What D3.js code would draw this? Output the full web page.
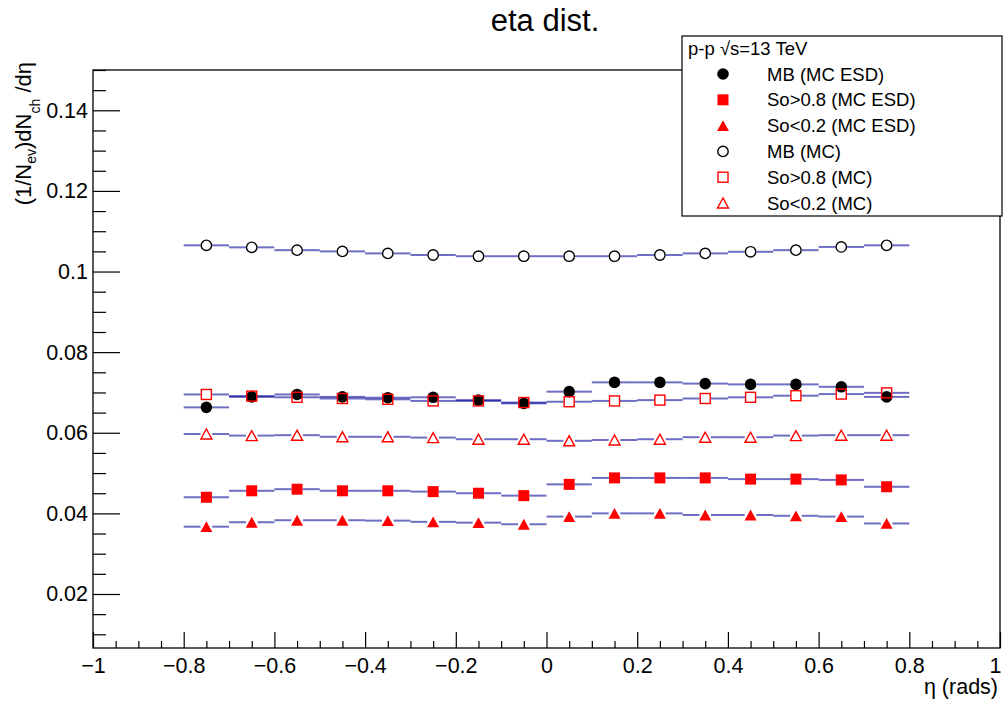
<!DOCTYPE html>
<html>
<head>
<meta charset="utf-8">
<script src="https://cdn.jsdelivr.net/npm/d3@7"></script>
<style>
  body { margin: 0; background: #fff; }
  svg { display: block; }
  text { font-family: "Liberation Sans", Arial, Helvetica, sans-serif; fill: #000; }
</style>
</head>
<body>
<div id="graph_draw"></div>
<script>
// bin centers in eta (bin width 0.1, from -0.8 to 0.8)
var etaCenters = [-0.75, -0.65, -0.55, -0.45, -0.35, -0.25, -0.15, -0.05,
                   0.05,  0.15,  0.25,  0.35,  0.45,  0.55,  0.65,  0.75];

var mbEsd  = [0.0663, 0.0689, 0.0695, 0.0689, 0.0687, 0.0688, 0.0681, 0.0673,
              0.0702, 0.0725, 0.0725, 0.0722, 0.0720, 0.0720, 0.0714, 0.0689];
var soHiEsd = [0.0440, 0.0456, 0.0460, 0.0456, 0.0456, 0.0454, 0.0450, 0.0444,
               0.0472, 0.0488, 0.0488, 0.0488, 0.0485, 0.0485, 0.0483, 0.0466];
var soLoEsd = [0.0367, 0.0378, 0.0383, 0.0383, 0.0382, 0.0379, 0.0377, 0.0373,
               0.0392, 0.0400, 0.0400, 0.0396, 0.0396, 0.0394, 0.0392, 0.0375];
var mbMc   = [0.1065, 0.1060, 0.1053, 0.1050, 0.1045, 0.1041, 0.1038, 0.1038,
              0.1038, 0.1038, 0.1041, 0.1045, 0.1049, 0.1053, 0.1061, 0.1065];
var soHiMc = [0.0695, 0.0691, 0.0688, 0.0685, 0.0683, 0.0679, 0.0679, 0.0675,
              0.0677, 0.0679, 0.0681, 0.0685, 0.0688, 0.0692, 0.0696, 0.0699];
var soLoMc = [0.0597, 0.0593, 0.0594, 0.0590, 0.0590, 0.0588, 0.0584, 0.0584,
              0.0580, 0.0582, 0.0584, 0.0589, 0.0589, 0.0593, 0.0594, 0.0594];

var seriesNames = ["MB (MC ESD)", "So>0.8 (MC ESD)", "So<0.2 (MC ESD)",
                   "MB (MC)", "So>0.8 (MC)", "So<0.2 (MC)"];
var seriesValues = [mbEsd, soHiEsd, soLoEsd, mbMc, soHiMc, soLoMc];
var seriesShapes = ["circle", "square", "triangle", "circle", "square", "triangle"];
var seriesColors = ["#000", "#f00", "#f00", "#000", "#f00", "#f00"];
var seriesFilled = [true, true, true, false, false, false];

var xTicks = [-1, -0.8, -0.6, -0.4, -0.2, 0, 0.2, 0.4, 0.6, 0.8, 1];
var xTickLabels = ["\u22121", "\u22120.8", "\u22120.6", "\u22120.4", "\u22120.2", "0",
                   "0.2", "0.4", "0.6", "0.8", "1"];
var yTicks = [0.02, 0.04, 0.06, 0.08, 0.1, 0.12, 0.14];
var yTickLabels = ["0.02", "0.04", "0.06", "0.08", "0.1", "0.12", "0.14"];

var W = 1004, H = 704;
var margin = {left: 93, right: 1000, top: 70, bottom: 648};   // frame edges in px
var halfBin = 0.05;

var svg = d3.select("#graph_draw").append("svg")
    .attr("width", W)
    .attr("height", H);

var x = d3.scaleLinear().domain([-1, 1]).range([margin.left, margin.right]);
var y = d3.scaleLinear().domain([0.0066, 0.15]).range([margin.bottom, margin.top]);

// title
svg.append("text")
    .attr("x", 545).attr("y", 31)
    .attr("text-anchor", "middle")
    .style("font-size", "31px")
    .text("eta dist.");

// frame
svg.append("rect")
    .attr("x", margin.left).attr("y", margin.top)
    .attr("width", margin.right - margin.left).attr("height", margin.bottom - margin.top)
    .attr("fill", "none").attr("stroke", "#000").attr("stroke-width", 1.3);

// x axis (ticks point up into the frame)
var xMinor = d3.range(-1, 1.0001, 0.05).filter(function(v){ return Math.abs(Math.round(v * 5) - v * 5) > 1e-6; });
svg.append("g")
    .attr("transform", "translate(0," + margin.bottom + ")")
    .call(d3.axisBottom(x).tickValues(xMinor).tickSize(-7).tickFormat(""))
    .call(function(g){ g.select(".domain").remove(); });
svg.append("g")
    .attr("transform", "translate(0," + margin.bottom + ")")
    .call(d3.axisBottom(x).tickValues(xTicks).tickSize(-16).tickPadding(10)
        .tickFormat(function(d, i){ return xTickLabels[i]; }))
    .call(function(g){
        g.select(".domain").remove();
        g.attr("font-family", null).attr("font-size", null);
        g.selectAll("text").style("font-size", "21.5px");
        // keep the last label inside the page, as the reference does
        g.selectAll("text").filter(function(d){ return d == 1; }).attr("x", -5);
    });

// y axis (ticks point right into the frame)
var yMinor = d3.range(0.01, 0.1501, 0.005).filter(function(v){ return Math.abs(Math.round(v * 50) - v * 50) > 1e-6; });
svg.append("g")
    .attr("transform", "translate(" + margin.left + ",0)")
    .call(d3.axisLeft(y).tickValues(yMinor).tickSize(-13).tickFormat(""))
    .call(function(g){ g.select(".domain").remove(); });
svg.append("g")
    .attr("transform", "translate(" + margin.left + ",0)")
    .call(d3.axisLeft(y).tickValues(yTicks).tickSize(-27).tickPadding(5)
        .tickFormat(function(d, i){ return yTickLabels[i]; }))
    .call(function(g){
        g.select(".domain").remove();
        g.attr("font-family", null).attr("font-size", null);
        g.selectAll("text").style("font-size", "21.5px");
    });
svg.selectAll(".tick line").attr("stroke", "#000").attr("stroke-width", 1.2);

// axis titles
svg.append("text")
    .attr("x", margin.right - 2).attr("y", 694)
    .attr("text-anchor", "end")
    .style("font-size", "21.5px")
    .text("\u03b7 (rads)");

var yTitle = svg.append("text")
    .attr("transform", "translate(31,62) rotate(-90)")
    .attr("text-anchor", "end")
    .style("font-size", "22px");
yTitle.append("tspan").text("(1/N");
yTitle.append("tspan").attr("dy", 5).style("font-size", "14px").text("ev");
yTitle.append("tspan").attr("dy", -5).text(")dN");
yTitle.append("tspan").attr("dy", 9).style("font-size", "14px").text("ch");
yTitle.append("tspan").attr("dy", -9).text(" /d\u03b7");

// marker drawing
var markerR = {circle: 5.8, square: 5.5, triangle: 5.8};
function drawMarker(g, shape, cx, cy, color, filled){
    var m;
    if(shape == "circle"){
        m = g.append("circle").attr("cx", cx).attr("cy", cy).attr("r", filled ? 5.8 : 5.2);
    }else if(shape == "square"){
        var s = filled ? 11 : 10;
        m = g.append("rect").attr("x", cx - s / 2).attr("y", cy - s / 2).attr("width", s).attr("height", s);
    }else{
        var hw = filled ? 6 : 5.5, hh = filled ? 5.4 : 5;
        m = g.append("path").attr("d", "M" + (cx - hw) + "," + (cy + hh) + "L" + cx + "," + (cy - hh) +
            "L" + (cx + hw) + "," + (cy + hh) + "Z");
    }
    if(filled){
        m.attr("fill", color).attr("stroke", "none");
    }else{
        m.attr("fill", "none").attr("stroke", color).attr("stroke-width", 1.4);
    }
}

var plot = svg.append("g");
for(var s = 0; s < seriesValues.length; s++){
    var vals = seriesValues[s];
    var g = plot.append("g");
    var r = markerR[seriesShapes[s]];
    for(var i = 0; i < etaCenters.length; i++){
        var cx = x(etaCenters[i]), cy = y(vals[i]);
        // horizontal bin-width error bars, broken at the marker
        g.append("line")
            .attr("x1", x(etaCenters[i] - halfBin)).attr("x2", cx - r)
            .attr("y1", cy).attr("y2", cy)
            .attr("stroke", "#000096").attr("stroke-opacity", 0.57).attr("stroke-width", 2);
        g.append("line")
            .attr("x1", cx + r).attr("x2", x(etaCenters[i] + halfBin))
            .attr("y1", cy).attr("y2", cy)
            .attr("stroke", "#000096").attr("stroke-opacity", 0.57).attr("stroke-width", 2);
        drawMarker(g, seriesShapes[s], cx, cy, seriesColors[s], seriesFilled[s]);
    }
}

// legend
var lg = svg.append("g");
lg.append("rect")
    .attr("x", 682).attr("y", 36).attr("width", 320).attr("height", 180)
    .attr("fill", "#fff").attr("stroke", "#000").attr("stroke-width", 1.2);
lg.append("text")
    .attr("x", 688).attr("y", 55)
    .style("font-size", "18.5px")
    .text("p-p \u221as=13 TeV");
for(var k = 0; k < seriesNames.length; k++){
    var ry = 74 + k * 25.8;
    drawMarker(lg, seriesShapes[k], 723, ry, seriesColors[k], seriesFilled[k]);
    lg.append("text")
        .attr("x", 767).attr("y", ry + 6.5)
        .style("font-size", "18.5px")
        .text(seriesNames[k]);
}
</script>
</body>
</html>
